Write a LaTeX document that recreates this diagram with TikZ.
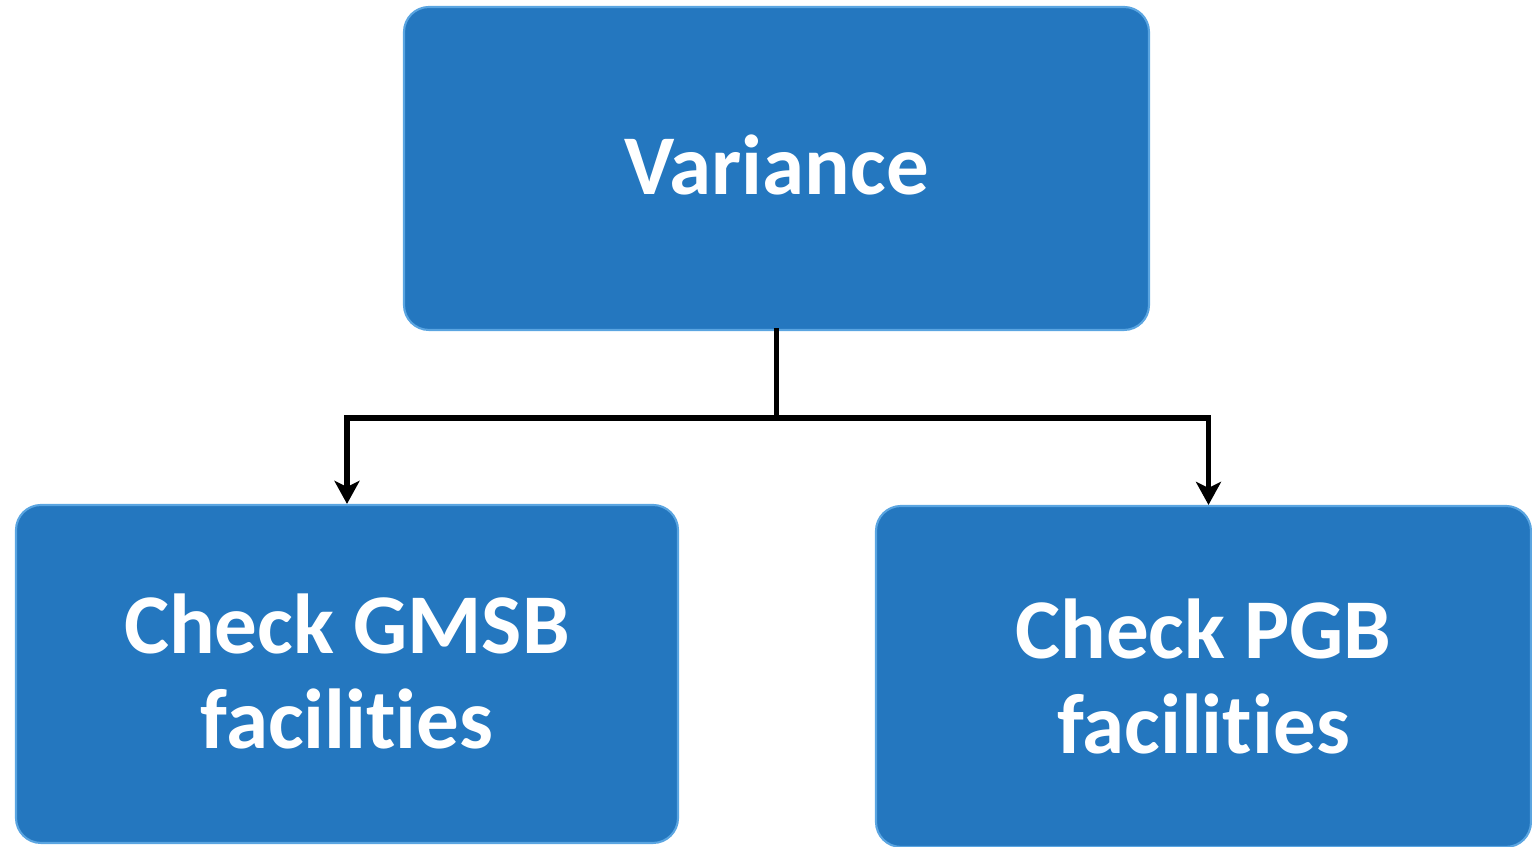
\documentclass[tikz,border=0pt]{standalone}
\usepackage{fontspec}
\setmainfont{Carlito}[Ligatures={NoCommon,NoDiscretionary}]
\usetikzlibrary{arrows.meta}

\definecolor{boxblue}{RGB}{36,119,191}
\definecolor{boxedge}{RGB}{90,165,225}

\tikzset{
  bluebox/.style={rectangle, rounded corners=0.25cm, fill=boxblue, draw=boxedge,
    line width=0.6pt, text=white, font=\fontsize{24.2}{27}\selectfont\bfseries,
    align=center, inner sep=0pt},
  link/.style={line width=1.7pt, line cap=rect}
}

\begin{document}
\begin{tikzpicture}

\useasboundingbox (0,0) rectangle (15.32,8.47);

\node[bluebox, minimum width=7.45cm, minimum height=3.23cm] (variance) at (7.765,6.785) {\raisebox{0.07cm}{Variance}};
\node[bluebox, minimum width=6.62cm, minimum height=3.38cm] (gmsb) at (3.47,1.73) {Check GMSB\\facilities\rule[-0.05cm]{0pt}{0pt}};
\node[bluebox, minimum width=6.55cm, minimum height=3.41cm] (pgb) at (12.035,1.705) {Check PGB\\facilities};

\draw[link] (variance.south) -- ++(0,-0.87) coordinate (split);
\draw[link][-{Stealth[length=0.23cm,width=0.25cm,inset=0.06cm]}] (split) -| (gmsb.north);
\draw[link][-{Stealth[length=0.23cm,width=0.25cm,inset=0.06cm]}] (split) -| ([xshift=0.05cm]pgb.north);

\end{tikzpicture}
\end{document}
